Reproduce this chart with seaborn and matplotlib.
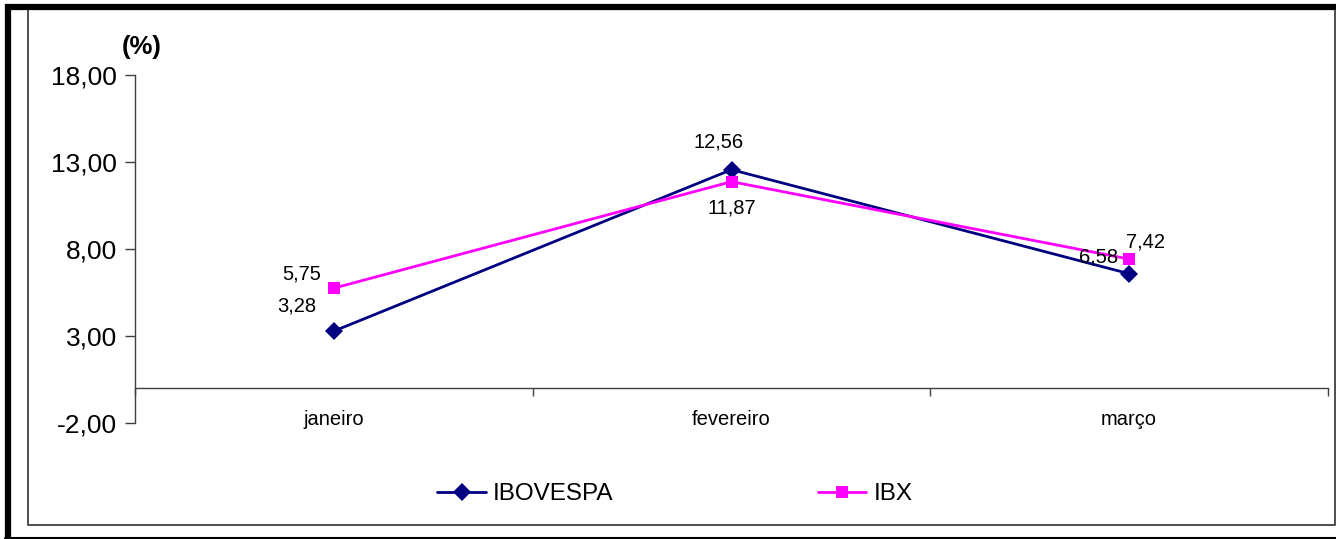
import pandas as pd
import matplotlib
matplotlib.use("Agg")
import matplotlib.pyplot as plt
import seaborn as sns
from matplotlib.lines import Line2D

meses = ["janeiro", "fevereiro", "março"]
ibovespa = [3.28, 12.56, 6.58]
ibx = [5.75, 11.87, 7.42]
yticks = [-2, 3, 8, 13, 18]

df = pd.DataFrame({
    "mes": meses * 2,
    "valor": ibovespa + ibx,
    "indice": ["IBOVESPA"] * 3 + ["IBX"] * 3,
})

sns.set_style("white")
plt.rcParams["font.family"] = ["Liberation Sans", "DejaVu Sans"]
plt.rcParams["text.color"] = "black"
plt.rcParams["xtick.color"] = "black"
plt.rcParams["ytick.color"] = "black"

cores = {"IBOVESPA": "#000080", "IBX": "#FF00FF"}
marcas = {"IBOVESPA": "D", "IBX": "s"}

fig = plt.figure(figsize=(13.36, 5.39), dpi=100)
ax = fig.add_axes([135 / 1336, 1 - 423 / 539, 1193 / 1336, 348 / 539])

sns.lineplot(data=df, x="mes", y="valor", hue="indice", style="indice",
             palette=cores, markers=marcas, dashes=False, sort=False,
             linewidth=2, markersize=9, markeredgewidth=0, legend=False, ax=ax)

ax.set_xlim(-0.5, 2.5)
ax.set_ylim(-2, 18)
ax.set_yticks(yticks)
ax.set_yticklabels([f"{v:.2f}".replace(".", ",") for v in yticks])
ax.tick_params(axis="y", left=True, direction="out", length=7, width=1,
               color="#404040", labelcolor="black", labelsize=19, pad=6)

ax.set_xticks(range(len(meses)))
ax.set_xticklabels(meses)
ax.set_xticks([-0.5, 0.5, 1.5, 2.5], minor=True)
ax.tick_params(axis="x", which="major", bottom=True, length=0, pad=16,
               labelcolor="black", labelsize=14.5)
ax.tick_params(axis="x", which="minor", bottom=True, direction="out", length=6, width=1,
               color="#404040")
ax.set_xlabel("")
ax.set_ylabel("")

for s in ["top", "right"]:
    ax.spines[s].set_visible(False)
ax.spines["bottom"].set_position(("data", 0))
ax.spines["bottom"].set_color("#404040")
ax.spines["left"].set_color("#404040")
ax.spines["bottom"].set_linewidth(1)
ax.spines["left"].set_linewidth(1)

def rotulo(i, v, dx, dy):
    ax.annotate(f"{v:.2f}".replace(".", ","), (i, v), xytext=(dx, dy),
                textcoords="offset points", ha="center", va="center",
                fontsize=14.5, color="black")

rotulo(0, ibovespa[0], -27, 18)
rotulo(1, ibovespa[1], -9, 20)
rotulo(2, ibovespa[2], -22, 12)
rotulo(0, ibx[0], -23, 10)
rotulo(1, ibx[1], 0, -19)
rotulo(2, ibx[2], 12, 12)

fig.text(142 / 1336, 1 - 47 / 539, "(%)", fontsize=18.5, fontweight="bold",
         ha="center", va="center", color="black")

handles = [Line2D([], [], color=cores[k], marker=marcas[k], markersize=9,
                  markeredgewidth=0, linewidth=2) for k in ["IBOVESPA", "IBX"]]
fig.legend(handles, ["IBOVESPA", "IBX"], loc="center", ncol=2,
           bbox_to_anchor=(675 / 1336, 1 - 494 / 539), frameon=False,
           fontsize=17.5, columnspacing=8.4, handlelength=2.0, handletextpad=0.3)

# molduras
fig.add_artist(Line2D([7.5 / 1336, 7.5 / 1336], [0, 1 - 4 / 539], transform=fig.transFigure,
                      color="black", linewidth=4.5, solid_capstyle="butt"))
fig.add_artist(Line2D([5 / 1336, 1], [1 - 7 / 539, 1 - 7 / 539], transform=fig.transFigure,
                      color="black", linewidth=4.5, solid_capstyle="butt"))
fig.add_artist(Line2D([5 / 1336, 1], [1 - 537.5 / 539, 1 - 537.5 / 539], transform=fig.transFigure,
                      color="black", linewidth=1.5))
fig.add_artist(Line2D([28 / 1336, 28 / 1336, 1335 / 1336, 1335 / 1336],
                      [1 - 10 / 539, 1 - 525 / 539, 1 - 525 / 539, 1 - 10 / 539],
                      transform=fig.transFigure, color="#303030", linewidth=1.2))

fig.savefig("out.png", dpi=100)
